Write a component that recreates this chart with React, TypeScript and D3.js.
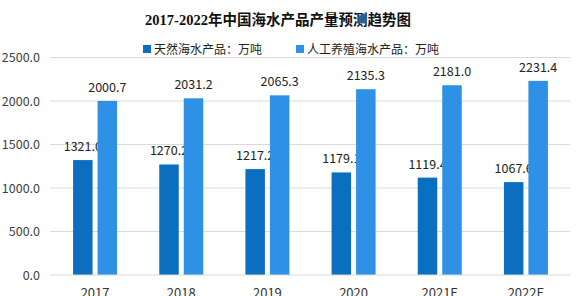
import React from "react";
import * as d3 from "d3";

const categories = ["2017", "2018", "2019", "2020", "2021E", "2022E"];
const naturalValues = [1321.0, 1270.2, 1217.2, 1179.1, 1119.4, 1067.6];
const farmedValues = [2000.7, 2031.2, 2065.3, 2135.3, 2181.0, 2231.4];
const yTicks = [0, 500, 1000, 1500, 2000, 2500];
const seriesNames = ["天然海水产品：万吨", "人工养殖海水产品：万吨"];
const title = "2017-2022年中国海水产品产量预测趋势图";

const W = 576;
const H = 296;
const colors = ["#0b6fbf", "#2e91e5"];
const font = "'Microsoft YaHei', 'Noto Sans CJK SC', sans-serif";

export default function App() {
  const x = d3.scaleBand<string>().domain(categories).range([52, 569]).paddingInner(0).paddingOuter(0);
  const y = d3.scaleLinear().domain([0, 2500]).range([275, 57.5]);
  const barW = 19.5;
  const gap = 5;
  const series = [naturalValues, farmedValues];

  return (
    <svg width={W} height={H} style={{ position: "fixed", left: 0, top: 0, background: "#fff" }}>
      <rect x={0} y={0} width={W} height={H} fill="#fff" />
      <text x={278} y={25} textAnchor="middle" fontFamily="'Liberation Serif', 'Noto Sans CJK SC', serif" fontWeight="bold" fontSize={14.5} fill="#111">
        {title}
      </text>
      {yTicks.map((t) => (
        <g key={t}>
          {t > 0 && <line x1={50} x2={570} y1={y(t)} y2={y(t)} stroke="#d9d9d9" strokeWidth={1} />}
          <text x={40} y={y(t) + 4.5} textAnchor="end" fontFamily={font} fontSize={12.5} fill="#404040">
            {t.toFixed(1)}
          </text>
        </g>
      ))}
      {seriesNames.map((n, i) => (
        <g key={n}>
          <rect x={143 + i * 153} y={45} width={8} height={8} fill={colors[i]} />
          <text x={154 + i * 153} y={54} fontFamily={font} fontSize={12} fill="#222">
            {n}
          </text>
        </g>
      ))}
      {categories.map((c, ci) => {
        const cx = (x(c) as number) + x.bandwidth() / 2;
        return (
          <g key={c}>
            {series.map((vals, si) => {
              const bx = si === 0 ? cx - gap / 2 - barW : cx + gap / 2;
              const v = vals[ci];
              return (
                <g key={si}>
                  <rect x={bx} y={y(v)} width={barW} height={y(0) - y(v)} fill={colors[si]} />
                  <text x={bx + barW / 2} y={y(v) - 9} textAnchor="middle" fontFamily={font} fontSize={12.5} fill="#222">
                    {v.toFixed(1)}
                  </text>
                </g>
              );
            })}
            <text x={cx} y={298} textAnchor="middle" fontFamily={font} fontSize={13} fill="#333">
              {c}
            </text>
          </g>
        );
      })}
      <line x1={50} x2={570} y1={y(0)} y2={y(0)} stroke="#d9d9d9" strokeWidth={1} />
    </svg>
  );
}
